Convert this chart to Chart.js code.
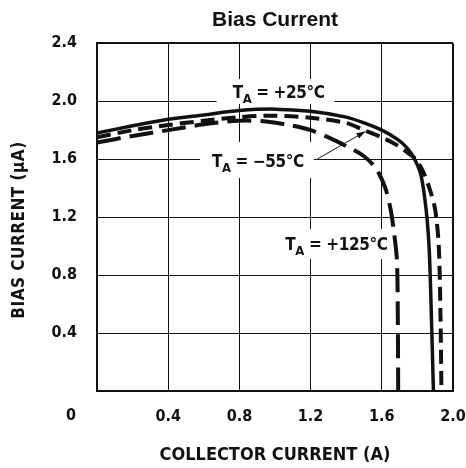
<!DOCTYPE html>
<html><head><meta charset="utf-8">
<script src="https://cdn.jsdelivr.net/npm/chart.js@4.4.1/dist/chart.umd.min.js"></script>
<style>html,body{margin:0;padding:0;background:#fff;}</style>
</head><body>
<canvas id="c" width="466" height="468"></canvas>
<script>
// ---- data ----
const chartTitle = 'Bias Current';
const xAxisTitle = 'COLLECTOR CURRENT (A)';
const yAxisTitle = 'BIAS CURRENT (\u03BCA)';
const xTicks = [0, 0.4, 0.8, 1.2, 1.6, 2.0];
const yTicks = [0.4, 0.8, 1.2, 1.6, 2.0, 2.4];

// T_A = +25°C (solid)
const current25 = [0, 0.2, 0.4, 0.6, 0.8, 1.0, 1.2, 1.4, 1.5, 1.6, 1.69, 1.74, 1.78, 1.82, 1.85, 1.867, 1.88, 1.89];
const bias25    = [1.78, 1.83, 1.875, 1.905, 1.935, 1.945, 1.93, 1.89, 1.85, 1.80, 1.735, 1.68, 1.61, 1.49, 1.24, 0.96, 0.45, 0];

// T_A = -55°C (short dash)
const currentM55 = [0, 0.2, 0.4, 0.6, 0.8, 1.0, 1.2, 1.4, 1.5, 1.6, 1.68, 1.75, 1.79, 1.83, 1.87, 1.9, 1.92, 1.93, 1.935];
const biasM55    = [1.75, 1.80, 1.835, 1.865, 1.89, 1.90, 1.885, 1.85, 1.80, 1.75, 1.70, 1.64, 1.60, 1.52, 1.39, 1.25, 1.0, 0.5, 0];

// T_A = +125°C (long dash)
const current125 = [0, 0.2, 0.4, 0.6, 0.8, 0.95, 1.1, 1.2, 1.3, 1.4, 1.5, 1.57, 1.62, 1.65, 1.67, 1.685, 1.69, 1.692];
const bias125    = [1.715, 1.76, 1.80, 1.84, 1.865, 1.86, 1.83, 1.80, 1.75, 1.69, 1.62, 1.53, 1.40, 1.25, 1.08, 0.9, 0.5, 0];

const seriesLabels = ['T_A = +25\u00B0C', 'T_A = \u221255\u00B0C', 'T_A = +125\u00B0C'];

// annotation placement (data units)
const notes = [
  {main: 'T', sub: 'A', rest: ' = +25\u00B0C',  x: 0.762, y: 2.07,  padL: 16, padR: 10, padT: 12, padB: 13},
  {main: 'T', sub: 'A', rest: ' = \u221255\u00B0C', x: 0.646, y: 1.594, padL: 12, padR: 10, padT: 18, padB: 18},
  {main: 'T', sub: 'A', rest: ' = +125\u00B0C', x: 1.058, y: 1.021, padL: 6, padR: 4, padT: 14, padB: 16}
];
const arrowFrom = {x: 1.238, y: 1.601};
const arrowTo   = {x: 1.508, y: 1.791};

const NARROW = '"Liberation Sans Narrow", "Arial Narrow", "DejaVu Sans Condensed", sans-serif';
const INK = '#111';

function pts(xs, ys) { return xs.map((v, i) => ({x: v, y: ys[i]})); }

const spacingPlugin = {
  id: 'spacing',
  afterLayout(chart) {
    Object.values(chart.scales).forEach(s => {
      if (s._lsWrapped) return;
      const orig = s.draw;
      s.draw = function (area) {
        const ctx = this.ctx;
        const prev = ctx.letterSpacing;
        ctx.letterSpacing = '1px';
        orig.call(this, area);
        ctx.letterSpacing = prev || '0px';
      };
      s._lsWrapped = true;
    });
  }
};

function drawNote(ctx, n, xs, ys, boxOnly) {
  const px = xs.getPixelForValue(n.x), py = ys.getPixelForValue(n.y);
  ctx.letterSpacing = '-0.4px';
  const mainFont = 'bold 17px ' + NARROW, subFont = 'bold 13px ' + NARROW;
  ctx.font = mainFont; const wT = ctx.measureText(n.main).width;
  ctx.font = subFont; const wA = ctx.measureText(n.sub).width;
  ctx.font = mainFont; const wR = ctx.measureText(n.rest).width;
  const total = wT + wA + wR;
  if (boxOnly) {
    ctx.fillStyle = '#fff';
    ctx.fillRect(px - n.padL, py - n.padT, total + n.padL + n.padR, n.padT + n.padB);
    return;
  }
  ctx.fillStyle = INK;
  ctx.textBaseline = 'alphabetic';
  ctx.textAlign = 'left';
  const base = py + 6.5;
  ctx.font = mainFont; ctx.fillText(n.main, px, base);
  ctx.font = subFont; ctx.fillText(n.sub, px + wT, base + 5);
  ctx.font = mainFont; ctx.fillText(n.rest, px + wT + wA, base);
}

const textPlugin = {
  id: 'texts',
  beforeDatasetsDraw(chart) {
    const {ctx, scales: {x, y}} = chart;
    ctx.save();
    notes.forEach(n => drawNote(ctx, n, x, y, true));
    notes.forEach(n => drawNote(ctx, n, x, y, false));
    ctx.restore();
  },
  afterDatasetsDraw(chart) {
    const {ctx, scales: {x, y}} = chart;
    ctx.save();
    // leader arrow for -55°C
    const x1 = x.getPixelForValue(arrowFrom.x), y1 = y.getPixelForValue(arrowFrom.y);
    const x2 = x.getPixelForValue(arrowTo.x), y2 = y.getPixelForValue(arrowTo.y);
    ctx.strokeStyle = INK; ctx.fillStyle = INK; ctx.lineWidth = 1;
    ctx.beginPath(); ctx.moveTo(x1, y1); ctx.lineTo(x2, y2); ctx.stroke();
    const ang = Math.atan2(y2 - y1, x2 - x1), L = 9, W = 3;
    ctx.beginPath();
    ctx.moveTo(x2, y2);
    ctx.lineTo(x2 - L * Math.cos(ang) + W * Math.sin(ang), y2 - L * Math.sin(ang) - W * Math.cos(ang));
    ctx.lineTo(x2 - L * Math.cos(ang) - W * Math.sin(ang), y2 - L * Math.sin(ang) + W * Math.cos(ang));
    ctx.closePath(); ctx.fill();

    // origin "0" label and y axis title
    ctx.letterSpacing = '1px';
    ctx.font = 'bold 16px ' + NARROW;
    ctx.textAlign = 'right'; ctx.textBaseline = 'middle';
    ctx.fillText('0', y.right - 20, x.top + 25);

    ctx.letterSpacing = '0.5px';
    ctx.font = 'bold 17px ' + NARROW;
    ctx.translate(20, 230);
    ctx.rotate(-Math.PI / 2);
    ctx.textAlign = 'center'; ctx.textBaseline = 'middle';
    ctx.fillText(yAxisTitle, 0, 0);
    ctx.restore();
  }
};

new Chart(document.getElementById('c'), {
  type: 'scatter',
  data: {
    datasets: [
      {label: seriesLabels[0], data: pts(current25, bias25), showLine: true, borderColor: INK,
       borderWidth: 3.5, pointRadius: 0, tension: 0.3, fill: false},
      {label: seriesLabels[1], data: pts(currentM55, biasM55), showLine: true, borderColor: INK,
       borderWidth: 4, borderDash: [14, 7], pointRadius: 0, tension: 0.3, fill: false},
      {label: seriesLabels[2], data: pts(current125, bias125), showLine: true, borderColor: INK,
       borderWidth: 4, borderDash: [24, 9], pointRadius: 0, tension: 0.3, fill: false}
    ]
  },
  options: {
    responsive: false,
    animation: false,
    devicePixelRatio: 1,
    layout: {padding: {left: 0, right: 13, top: 0, bottom: 0}},
    plugins: {
      legend: {display: false},
      tooltip: {enabled: false},
      title: {display: true, text: chartTitle, color: INK, fullSize: false,
              font: {family: '"Liberation Sans", Arial, sans-serif', size: 21, weight: 'bold'},
              padding: {top: 8, bottom: 10}}
    },
    scales: {
      x: {
        type: 'linear', min: 0, max: 2.0,
        afterBuildTicks: s => { s.ticks = xTicks.map(v => ({value: v})); },
        afterFit: s => { s.height = 77; s.paddingLeft = 0; s.paddingRight = 0; },
        ticks: {color: INK, font: {family: NARROW, size: 16, weight: 'bold'}, padding: 16, maxRotation: 0,
                callback: v => v === 0 ? '' : v.toFixed(1)},
        grid: {color: INK, drawTicks: false, lineWidth: c => (c.tick && c.tick.value === 2.0) ? 2 : 1},
        border: {display: true, color: INK, width: 2},
        title: {display: true, text: xAxisTitle, color: INK,
                font: {family: NARROW, size: 18, weight: 'bold'}, padding: {top: 0, bottom: 2}}
      },
      y: {
        type: 'linear', min: 0, max: 2.4,
        afterBuildTicks: s => { s.ticks = yTicks.map(v => ({value: v})); },
        afterFit: s => { s.width = 97; s.paddingTop = 0; s.paddingBottom = 0; },
        ticks: {color: INK, font: {family: NARROW, size: 16, weight: 'bold'}, padding: 20,
                callback: v => v.toFixed(1)},
        grid: {color: INK, drawTicks: false, lineWidth: c => (c.tick && c.tick.value === 2.4) ? 2 : 1},
        border: {display: true, color: INK, width: 2},
        title: {display: false}
      }
    }
  },
  plugins: [spacingPlugin, textPlugin]
});
</script>
</body></html>
